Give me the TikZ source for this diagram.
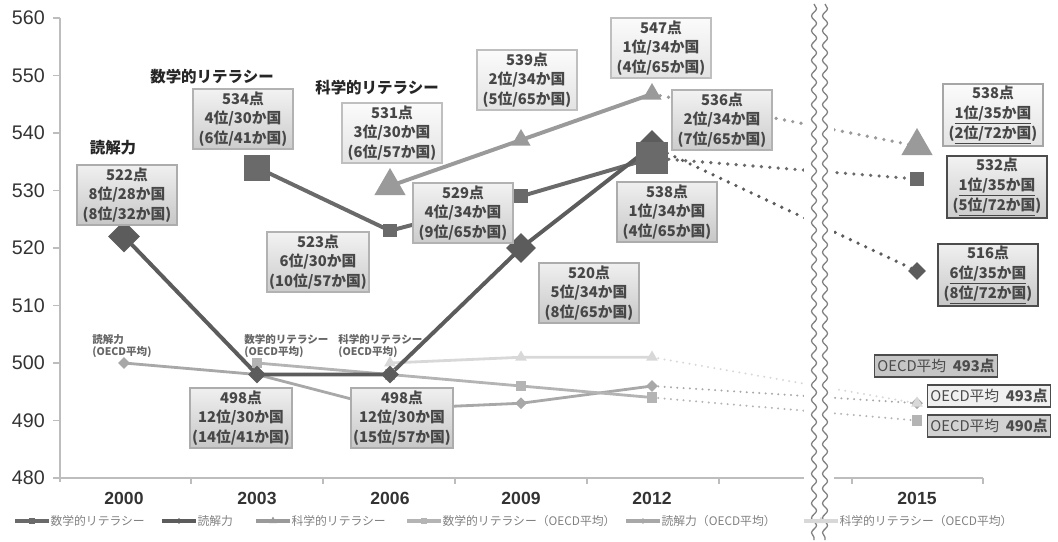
\documentclass[tikz,border=0pt]{standalone}
\usepackage{fontspec}
\setmainfont{Noto Sans CJK JP}
\newfontfamily\numfont{Liberation Sans}
\usetikzlibrary{shapes.geometric,decorations.pathmorphing,backgrounds}
\definecolor{mathc}{HTML}{6A6A6A}
\definecolor{readc}{HTML}{5C5C5C}
\definecolor{scic}{HTML}{9A9A9A}
\definecolor{omathc}{HTML}{B4B4B4}
\definecolor{oreadc}{HTML}{A8A8A8}
\definecolor{oscic}{HTML}{D8D8D8}
\definecolor{axisc}{HTML}{BDBDBD}
\newcommand{\scorebox}[4]{%
 \node[#2] (#1) at (#3) {#4};%
}
\newcommand{\legenditem}[5]{%
 \draw[#2, line width=2.2pt] (#3) -- ++(34,0) node[midway, #4] {} node[legtext, right] (#1) {#5};%
}
\begin{document}
\begin{tikzpicture}[x=0.025cm, y=-0.025cm,
  every node/.style={font=\fontsize{10.5}{14}\selectfont},
  box/.style={draw=#1, line width=1pt, minimum width=2.5cm, minimum height=1.5cm,
    align=center, inner sep=1.5pt, text=black!72,
    font=\fontsize{10.5}{14}\selectfont\bfseries},
  sbox/.style={box=gray!50, top color=gray!3, bottom color=gray!22},
  mbox/.style={box=gray!60, top color=gray!10, bottom color=gray!40},
  rbox/.style={box=gray!65, top color=gray!12, bottom color=gray!44},
  obox/.style={draw=black!70, line width=1pt, inner sep=2pt, minimum height=0.55cm,
    text=black!70, fill=#1},
  title/.style={font=\fontsize{11}{13}\selectfont\bfseries, text=black!85},
  otitle/.style={font=\fontsize{7.5}{9}\selectfont\bfseries, text=black!60, align=left, anchor=west, inner sep=0pt},
  legtext/.style={font=\fontsize{8.4}{10}\selectfont, text=black!50, inner sep=0pt, anchor=west},
  msq/.style={rectangle, fill=mathc, inner sep=0pt, minimum size=#1},
  rdia/.style={diamond, fill=readc, inner sep=0pt, minimum size=#1},
  stri/.style={regular polygon, regular polygon sides=3, fill=scic, inner sep=0pt, minimum size=#1},
  omsq/.style={rectangle, fill=omathc, inner sep=0pt, minimum size=#1},
  ordia/.style={diamond, fill=oreadc, inner sep=0pt, minimum size=#1},
  ostri/.style={regular polygon, regular polygon sides=3, fill=oscic, inner sep=0pt, minimum size=#1},
  mline/.style={draw=mathc, line width=2.8pt},
  rline/.style={draw=readc, line width=2.8pt},
  sline/.style={draw=scic, line width=2.8pt},
  oline/.style={draw=#1, line width=2pt},
  dotline/.style={draw=#1, line width=2.6pt, line cap=round, dash pattern=on 0pt off 6pt},
  odotline/.style={draw=#1, line width=1.6pt, line cap=round, dash pattern=on 0pt off 4.5pt}]
 \useasboundingbox (0,0) rectangle (1058,541);

 % axes
 \draw[axisc, line width=1pt] (60,18) -- (60,482);
 \draw[axisc, line width=1pt] (60,478) -- (983,478);
 \foreach \v in {480,490,...,560}
  \draw[axisc, line width=1pt] (53,{478-(\v-480)*5.75}) -- (60,{478-(\v-480)*5.75})
   node[left=7pt, font=\numfont\fontsize{14}{16}\selectfont, text=black!80] (y\v) {\v};
 \foreach \t in {191,323,455,587,719,852,983}
  \draw[axisc, line width=1pt] (\t,478) -- (\t,484);
 \node[font=\numfont\bfseries\fontsize{12.5}{14}\selectfont, text=black!80] (x00) at (124,498) {2000};
 \node[font=\numfont\bfseries\fontsize{12.5}{14}\selectfont, text=black!80] (x03) at (257,498) {2003};
 \node[font=\numfont\bfseries\fontsize{12.5}{14}\selectfont, text=black!80] (x06) at (390,498) {2006};
 \node[font=\numfont\bfseries\fontsize{12.5}{14}\selectfont, text=black!80] (x09) at (521,498) {2009};
 \node[font=\numfont\bfseries\fontsize{12.5}{14}\selectfont, text=black!80] (x12) at (652,498) {2012};
 \node[font=\numfont\bfseries\fontsize{12.5}{14}\selectfont, text=black!80] (x15) at (917,498) {2015};

 % OECD markers
 \node[omsq=0.26cm] (om03) at (257,363) {};
 \node[omsq=0.26cm] (om06) at (390,374.5) {};
 \node[omsq=0.26cm] (om09) at (521,386) {};
 \node[omsq=0.26cm] (om12) at (652,397.5) {};
 \node[omsq=0.26cm] (om15) at (917,420.5) {};
 \node[ordia=0.3cm] (or00) at (124,363) {};
 \node[ordia=0.3cm] (or03) at (257,374.5) {};
 \node[ordia=0.3cm] (or06) at (390,409) {};
 \node[ordia=0.3cm] (or09) at (521,403.25) {};
 \node[ordia=0.3cm] (or12) at (652,386) {};
 \node[ordia=0.3cm] (or15) at (917,403.25) {};
 \node[ostri=0.34cm] (os06) at (390,363) {};
 \node[ostri=0.34cm] (os09) at (521,357.25) {};
 \node[ostri=0.34cm] (os12) at (652,357.25) {};
 \node[ostri=0.34cm] (os15) at (917,403.25) {};

 % main markers
 \node[rdia=0.45cm] (r03) at (257,374.5) {};
 \node[rdia=0.45cm] (r06) at (390,374.5) {};
 \node[msq=0.65cm] (m03) at (257,167.5) {};
 \node[msq=0.33cm] (m06) at (390,230.75) {};
 \node[msq=0.35cm] (m09) at (521,196.25) {};
 \node[msq=0.35cm] (m15) at (917,179) {};
 \node[rdia=0.8cm] (r00) at (124,236.5) {};
 \node[rdia=0.75cm] (r09) at (521,248) {};
 \node[rdia=0.8cm] (r12) at (652,146) {};
 \node[msq=0.78cm] (m12) at (652,158) {};
 \node[rdia=0.45cm] (r15) at (917,271) {};
 \node[stri=0.9cm] (s06) at (390,186) {};
 \node[stri=0.55cm] (s09) at (521,140) {};
 \node[stri=0.55cm] (s12) at (652,94) {};
 \node[stri=0.9cm] (s15) at (917,146) {};

 \begin{pgfonlayer}{background}
  \draw[oline=oreadc] (or00.center) -- (or03.center) -- (or06.center) -- (or09.center) -- (or12.center);
  \draw[oline=omathc] (om03.center) -- (om06.center) -- (om09.center) -- (om12.center);
  \draw[oline=oscic] (os06.center) -- (os09.center) -- (os12.center);
  \draw[odotline=oscic] (os12.center) -- (os15.center);
  \draw[odotline=oreadc] (or12.center) -- (or15.center);
  \draw[odotline=omathc] (om12.center) -- (om15.center);
  \draw[sline] (s06.center) -- (s09.center) -- (s12.center);
  \draw[mline] (m03.center) -- (m06.center) -- (m09.center) -- (m12.center);
  \draw[rline] (r00.center) -- (r03.center) -- (r06.center) -- (r09.center) -- (r12.center);
  \draw[dotline=scic] (s12.center) -- (s15.center);
  \draw[dotline=mathc] (m12.center) -- (m15.center);
  \draw[dotline=readc] (r12.center) -- (r15.center);
 \end{pgfonlayer}

 % break
 \fill[white] (804,0) rectangle (834,541);
 \draw[black!50, line width=0.9pt, decorate, decoration={snake, amplitude=1.8pt, segment length=10.5pt}] (814,4) -- (814,540);
 \draw[black!50, line width=0.9pt, decorate, decoration={snake, amplitude=1.8pt, segment length=10.5pt}] (825,4) -- (825,540);

 % titles
 \node[title] (tread) at (113,148) {読解力};
 \node[title] (tmath) at (212,77) {数学的リテラシー};
 \node[title] (tsci) at (377,88) {科学的リテラシー};
 \node[otitle] (oread) at (92,346) {読解力\\(OECD平均)};
 \node[otitle] (omath) at (244,346) {数学的リテラシー\\(OECD平均)};
 \node[otitle] (osci) at (338,346) {科学的リテラシー\\(OECD平均)};

 % score boxes
 \scorebox{br00}{rbox}{127,195}{522点\\8位/28か国\\(8位/32か国)};
 \scorebox{bm03}{mbox}{243,119}{534点\\4位/30か国\\(6位/41か国)};
 \scorebox{bs06}{sbox}{392,133}{531点\\3位/30か国\\(6位/57か国)};
 \scorebox{bs09}{sbox}{527,80}{539点\\2位/34か国\\(5位/65か国)};
 \scorebox{bs12}{sbox}{661,48}{547点\\1位/34か国\\(4位/65か国)};
 \scorebox{bm12}{mbox}{722,120}{536点\\2位/34か国\\(7位/65か国)};
 \scorebox{bm09}{mbox}{463,213}{529点\\4位/34か国\\(9位/65か国)};
 \scorebox{br12}{rbox}{667,212}{538点\\1位/34か国\\(4位/65か国)};
 \scorebox{bm06}{mbox}{318,262}{523点\\6位/30か国\\(10位/57か国)};
 \scorebox{br09}{rbox}{589,293}{520点\\5位/34か国\\(8位/65か国)};
 \scorebox{br03}{rbox}{241,418}{498点\\12位/30か国\\(14位/41か国)};
 \scorebox{br06}{rbox}{402,418}{498点\\12位/30か国\\(15位/57か国)};
 \scorebox{bs15}{sbox, draw=gray!70}{993,115}{538点\\\underline{1位/35か国}\\(\underline{2位/72か国})};
 \scorebox{bm15}{mbox, draw=black!70}{997,187}{532点\\\underline{1位/35か国}\\(\underline{5位/72か国})};
 \scorebox{br15}{rbox, draw=black!70}{988,275}{516点\\\underline{6位/35か国}\\(\underline{8位/72か国})};
 \node[obox=gray!45] (obr) at (936,366) {OECD平均\ \ \textbf{493点}};
 \node[obox=gray!12] (obs) at (989,396) {OECD平均\ \ \textbf{493点}};
 \node[obox=gray!35] (obm) at (989,426) {OECD平均\ \ \textbf{490点}};

 % legend
 \legenditem{lm}{mathc}{15,521}{msq=0.15cm}{数学的リテラシー};
 \legenditem{lr}{readc}{162,521}{rdia=0.18cm}{読解力};
 \legenditem{ls}{scic}{256,521}{stri=0.22cm}{科学的リテラシー};
 \legenditem{lom}{omathc}{407,521}{omsq=0.15cm}{数学的リテラシー（OECD平均）};
 \legenditem{lor}{oreadc}{626,521}{ordia=0.18cm}{読解力（OECD平均）};
 \legenditem{los}{oscic}{804,521}{ostri=0.22cm}{科学的リテラシー（OECD平均）};
\end{tikzpicture}
\end{document}
